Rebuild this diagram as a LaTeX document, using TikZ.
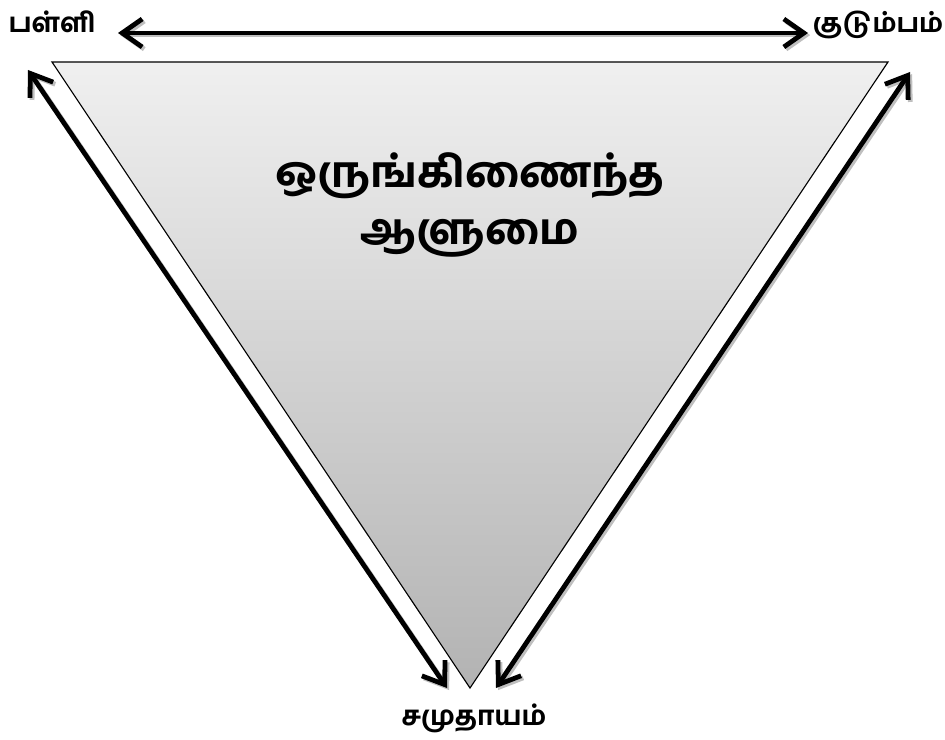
\documentclass[tikz,border=0pt]{standalone}
\usepackage{fontspec}
\newfontfamily\tamilfont[Script=Tamil,BoldFont={Hind Madurai Bold}]{Hind Madurai}
\usetikzlibrary{arrows.meta}

\begin{document}
\begin{tikzpicture}[x=0.025cm,y=-0.025cm]
\useasboundingbox (0,0) rectangle (945,740);

% Corners of the inverted triangle
\coordinate (tl) at (52,62);
\coordinate (tr) at (888,62);
\coordinate (bt) at (470,688);

\shade[top color=gray!12,bottom color=gray!60] (tl) -- (tr) -- (bt) -- cycle;
\draw[line width=0.8pt] (tl) -- (tr) -- (bt) -- cycle;

% Labels
\tikzstyle{every node}=[font=\tamilfont\bfseries,anchor=center,inner sep=0pt];
\node[font=\tamilfont\bfseries\fontsize{19}{22}\selectfont] (palli) at (52,22) {பள்ளி};
\node[font=\tamilfont\bfseries\fontsize{18.5}{22}\selectfont] (kudumbam) at (878,25) {குடும்பம்};
\node[font=\tamilfont\bfseries\fontsize{19}{22}\selectfont] (samudhayam) at (474,718) {சமுதாயம்};
\node[font=\tamilfont\bfseries\fontsize{30.5}{40}\selectfont,align=center] (aalumai) at (470,205)
  {ஒருங்கிணைந்த\\ஆளுமை};

% Arrow ends
\coordinate (a1) at (118,33);
\coordinate (a2) at (808,33);
\coordinate (l1) at (28,70);
\coordinate (l2) at (447,688);
\coordinate (r1) at (910,72);
\coordinate (r2) at (496,688);

\tikzstyle{link}=[line width=3.4pt,{Straight Barb[length=0.5cm,width=0.7cm]}-{Straight Barb[length=0.5cm,width=0.7cm]}];
\foreach \s/\e in {a1/a2,l1/l2,r1/r2}
  \draw[link,black!25,transform canvas={shift={(1.5pt,-1.5pt)}}] (\s) -- (\e);
\foreach \s/\e in {a1/a2,l1/l2,r1/r2}
  \draw[link] (\s) -- (\e);

\end{tikzpicture}
\end{document}
